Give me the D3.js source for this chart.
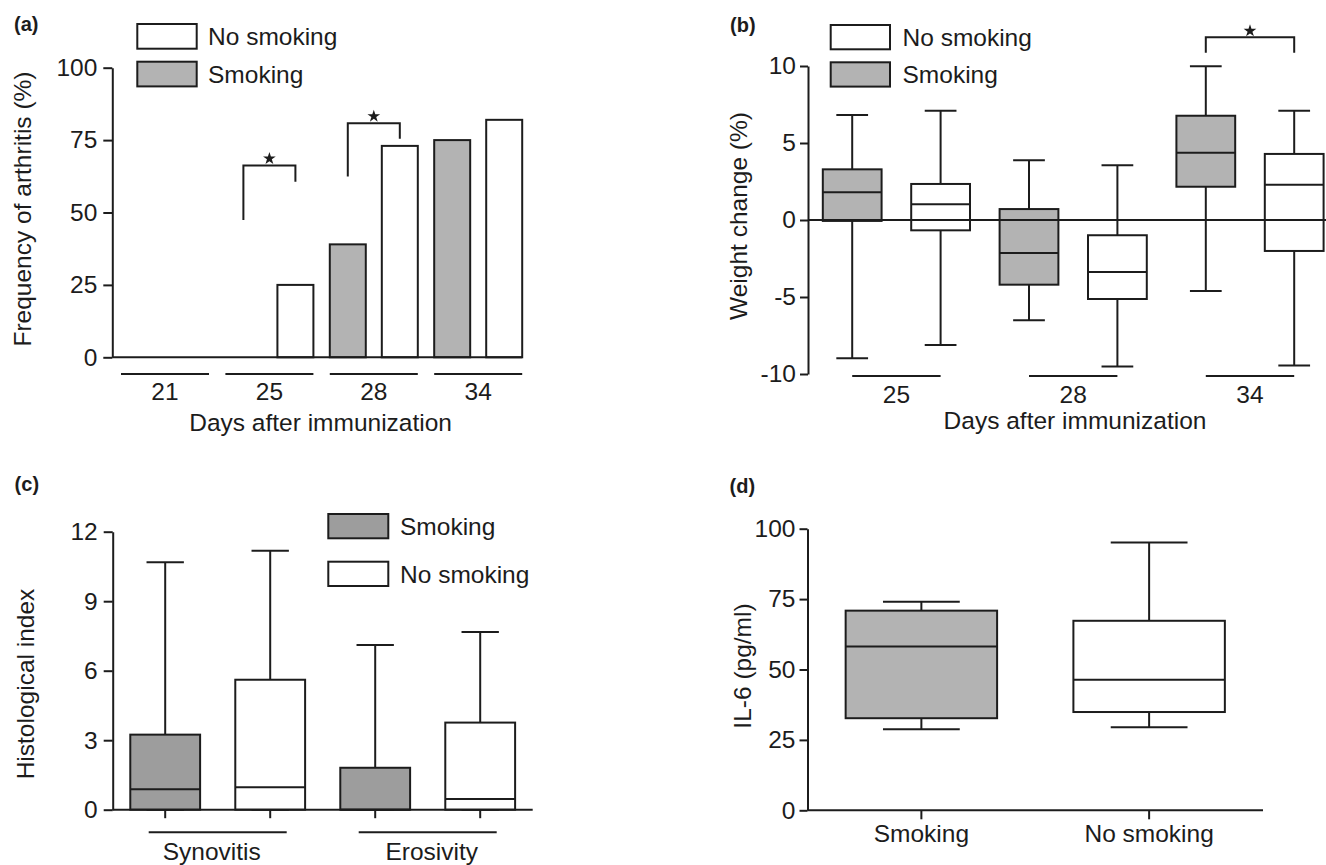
<!DOCTYPE html>
<html><head><meta charset="utf-8">
<script src="https://cdn.jsdelivr.net/npm/d3@7"></script>
<style>
body{margin:0;background:#fff;}
svg{display:block;font-family:"Liberation Sans",Arial,Helvetica,sans-serif;}
</style></head><body>
<svg id="chart" width="1326" height="865"></svg>
<script>
// ---------- DATA ----------
const seriesNames = ["Smoking", "No smoking"];

// (a) Frequency of arthritis (%)
const daysA = ["21", "25", "28", "34"];
const arthritisSmoking = [0, 0, 39, 75];
const arthritisNoSmoking = [0, 25, 73, 82];
const ticksA = [0, 25, 50, 75, 100];
const sigA = [ // bracket heights in %: top, left leg end, right leg end
  { day: "25", top: 66.2, left: 47.4, right: 60.6 },
  { day: "28", top: 80.8, left: 62.4, right: 75.5 }
];

// (b) Weight change (%)  [min, q1, median, q3, max]
const daysB = ["25", "28", "34"];
const weightSmoking = [[-8.98, -0.06, 1.80, 3.29, 6.82], [-6.51, -4.20, -2.14, 0.71, 3.88], [-4.61, 2.16, 4.37, 6.77, 9.98]];
const weightNoSmoking = [[-8.12, -0.67, 1.02, 2.34, 7.10], [-9.52, -5.13, -3.38, -0.99, 3.55], [-9.44, -2.01, 2.29, 4.29, 7.10]];
const ticksB = [-10, -5, 0, 5, 10];
const sigB = [{ day: "34", top: 11.86, left: 10.86, right: 10.86 }];

// (c) Histological index  [min, q1, median, q3, max]
const histCategories = ["Synovitis", "Erosivity"];
const histSmoking = [[0, 0, 0.88, 3.24, 10.68], [0, 0, 0, 1.81, 7.11]];
const histNoSmoking = [[0, 0, 0.97, 5.61, 11.18], [0, 0, 0.46, 3.76, 7.67]];
const ticksC = [0, 3, 6, 9, 12];

// (d) IL-6 (pg/ml)  [min, q1, median, q3, max]
const il6Groups = ["Smoking", "No smoking"];
const il6Values = [[28.8, 32.7, 58.2, 70.9, 74.1], [29.5, 34.9, 46.4, 67.3, 95.1]];
const ticksD = [0, 25, 50, 75, 100];

// ---------- STYLE ----------
const INK = "#1c1c1c";
const GRAY = "#b3b3b3";
const GRAY_C = "#9d9d9d";
const SW = 2;
const FS = 24.5;

const svg = d3.select("#chart");

function yAxis(g, y, ticks, x, size, pad) {
  const ax = g.append("g").attr("transform", `translate(${x},0)`)
    .call(d3.axisLeft(y).tickValues(ticks).tickSize(size).tickPadding(pad).tickSizeOuter(0).tickFormat(d => String(d)));
  ax.select(".domain").attr("stroke", INK).attr("stroke-width", SW);
  ax.selectAll(".tick line").attr("stroke", INK).attr("stroke-width", SW);
  ax.selectAll(".tick text").attr("fill", INK).style("font-size", FS + "px").style("font-family", "Liberation Sans, Arial, sans-serif");
  return ax;
}
function hline(g, x1, x2, y) {
  g.append("line").attr("x1", x1).attr("x2", x2).attr("y1", y).attr("y2", y).attr("stroke", INK).attr("stroke-width", SW);
}
function vline(g, x, y1, y2) {
  g.append("line").attr("x1", x).attr("x2", x).attr("y1", y1).attr("y2", y2).attr("stroke", INK).attr("stroke-width", SW);
}
function txt(g, x, y, s, anchor) {
  return g.append("text").attr("x", x).attr("y", y).attr("text-anchor", anchor || "middle")
    .attr("fill", INK).style("font-size", FS + "px").text(s);
}
function ytitle(g, x, cy, s) {
  g.append("text").attr("transform", `translate(${x},${cy}) rotate(-90)`).attr("text-anchor", "middle")
    .attr("fill", INK).style("font-size", FS + "px").text(s);
}
function panelLabel(g, x, y, s) {
  g.append("text").attr("x", x).attr("y", y).attr("fill", INK).style("font-size", "20px").style("font-weight", "bold").text(s);
}
function legend(g, items, x, tops, w, h, tx) {
  items.forEach((it, i) => {
    g.append("rect").attr("x", x).attr("y", tops[i]).attr("width", w).attr("height", h)
      .attr("fill", it.fill).attr("stroke", INK).attr("stroke-width", SW);
    txt(g, tx, tops[i] + h / 2 + 8.8, it.name, "start");
  });
}
function drawBox(g, cx, w, capW, v, y, fill) {
  vline(g, cx, y(v[0]), y(v[4]));
  hline(g, cx - capW / 2, cx + capW / 2, y(v[4]));
  hline(g, cx - capW / 2, cx + capW / 2, y(v[0]));
  g.append("rect").attr("x", cx - w / 2).attr("y", y(v[3])).attr("width", w).attr("height", y(v[1]) - y(v[3]))
    .attr("fill", fill).attr("stroke", INK).attr("stroke-width", SW);
  hline(g, cx - w / 2, cx + w / 2, y(v[2]));
}
function star(g, x, y) {
  g.append("path").attr("d", d3.symbol().type(d3.symbolStar).size(50)()).attr("transform", `translate(${x},${y})`).attr("fill", INK);
}

// ---------- (a) ----------
(function () {
  const g = svg.append("g");
  const axX = 112.3, axEnd = 522;
  const y = d3.scaleLinear().domain([0, 100]).range([357.3, 67.7]);
  const xg = d3.scaleBand().domain(daysA).range([121, 522.2]).paddingInner(0.157).paddingOuter(0);
  const xs = d3.scaleBand().domain(seriesNames).range([0, xg.bandwidth()]).paddingInner(0.308).paddingOuter(0);
  const fills = { "Smoking": GRAY, "No smoking": "#fff" };
  const vals = { "Smoking": arthritisSmoking, "No smoking": arthritisNoSmoking };
  daysA.forEach((d, i) => {
    seriesNames.forEach(s => {
      const v = vals[s][i];
      if (v > 0) {
        g.append("rect").attr("x", xg(d) + xs(s)).attr("y", y(v)).attr("width", xs.bandwidth()).attr("height", y(0) - y(v))
          .attr("fill", fills[s]).attr("stroke", INK).attr("stroke-width", SW);
      }
    });
    hline(g, xg(d), xg(d) + xg.bandwidth(), 374);
    txt(g, xg(d) + xg.bandwidth() / 2, 400, d);
  });
  hline(g, axX, axEnd, y(0));
  yAxis(g, y, ticksA, axX, 9, 6);
  sigA.forEach(b => {
    const xl = xg(b.day) + xs("Smoking") + xs.bandwidth() / 2;
    const xr = xg(b.day) + xs("No smoking") + xs.bandwidth() / 2;
    g.append("path").attr("d", `M${xl},${y(b.left)}V${y(b.top)}H${xr}V${y(b.right)}`)
      .attr("fill", "none").attr("stroke", INK).attr("stroke-width", SW);
    star(g, (xl + xr) / 2, y(b.top) - 7);
  });
  txt(g, 320.6, 431, "Days after immunization");
  ytitle(g, 31, 209, "Frequency of arthritis (%)");
  legend(g, [{ name: "No smoking", fill: "#fff" }, { name: "Smoking", fill: GRAY }], 137.3, [24, 61.7], 59.4, 24.7, 208);
  panelLabel(g, 14, 31, "(a)");
})();

// ---------- (b) ----------
(function () {
  const g = svg.append("g");
  const axX = 808;
  const y = d3.scaleLinear().domain([-10, 10]).range([374, 66]);
  const xg = d3.scaleBand().domain(daysB).range([axX, axX + 3 * 176.8]).padding(0);
  const xs = d3.scaleBand().domain(seriesNames).range([0, xg.bandwidth()]).paddingInner(0.335).paddingOuter(0.1675);
  const vals = { "Smoking": weightSmoking, "No smoking": weightNoSmoking };
  const fills = { "Smoking": GRAY, "No smoking": "#fff" };
  const cx = (d, s) => xg(d) + xs(s) + xs.bandwidth() / 2;
  daysB.forEach((d, i) => {
    seriesNames.forEach(s => drawBox(g, cx(d, s), xs.bandwidth(), xs.bandwidth() * 0.54, vals[s][i], y, fills[s]));
    hline(g, cx(d, "Smoking"), cx(d, "No smoking"), 376);
    txt(g, xg(d) + xg.bandwidth() / 2, 403, d);
  });
  hline(g, axX, 1326, y(0));
  yAxis(g, y, ticksB, axX, 8, 4);
  sigB.forEach(b => {
    const xl = cx(b.day, "Smoking"), xr = cx(b.day, "No smoking");
    g.append("path").attr("d", `M${xl},${y(b.left)}V${y(b.top)}H${xr}V${y(b.right)}`)
      .attr("fill", "none").attr("stroke", INK).attr("stroke-width", SW);
    star(g, (xl + xr) / 2, y(b.top) - 6.5);
  });
  txt(g, 1075, 429, "Days after immunization");
  ytitle(g, 746.7, 216, "Weight change (%)");
  legend(g, [{ name: "No smoking", fill: "#fff" }, { name: "Smoking", fill: GRAY }], 830.7, [25, 62.3], 59.3, 24.3, 902.5);
  panelLabel(g, 730, 32, "(b)");
})();

// ---------- (c) ----------
(function () {
  const g = svg.append("g");
  const axX = 112.7, axEnd = 532.7;
  const y = d3.scaleLinear().domain([0, 12]).range([809.7, 531.7]);
  const xg = d3.scaleBand().domain(histCategories).range([axX, axEnd]).padding(0);
  const xs = d3.scaleBand().domain(seriesNames).range([0, xg.bandwidth()]).paddingInner(0.335).paddingOuter(0.1675);
  const vals = { "Smoking": histSmoking, "No smoking": histNoSmoking };
  const fills = { "Smoking": GRAY_C, "No smoking": "#fff" };
  const cx = (d, s) => xg(d) + xs(s) + xs.bandwidth() / 2;
  histCategories.forEach((d, i) => {
    seriesNames.forEach(s => {
      drawBox(g, cx(d, s), xs.bandwidth(), xs.bandwidth() * 0.535, vals[s][i], y, fills[s]);
      vline(g, cx(d, s), y(0), y(0) + 8.5);
    });
    const mid = xg(d) + xg.bandwidth() / 2;
    hline(g, mid - 69, mid + 69, 832.3);
    txt(g, mid - (i === 0 ? 6 : -4), 860, d);
  });
  hline(g, axX, axEnd, y(0));
  yAxis(g, y, ticksC, axX, 9, 6);
  ytitle(g, 33.5, 684, "Histological index");
  legend(g, [{ name: "Smoking", fill: GRAY_C }, { name: "No smoking", fill: "#fff" }], 328.3, [514, 561.7], 60, 24.3, 400);
  panelLabel(g, 14.6, 491, "(c)");
})();

// ---------- (d) ----------
(function () {
  const g = svg.append("g");
  const axX = 807.5, axEnd = 1263;
  const y = d3.scaleLinear().domain([0, 100]).range([810.3, 528.7]);
  const x = d3.scaleBand().domain(il6Groups).range([axX, axEnd]).paddingInner(0.335).paddingOuter(0.1675);
  const fills = [GRAY, "#fff"];
  il6Groups.forEach((d, i) => {
    const c = x(d) + x.bandwidth() / 2;
    drawBox(g, c, x.bandwidth(), x.bandwidth() * 0.507, il6Values[i], y, fills[i]);
    vline(g, c, y(0), y(0) + 9);
    txt(g, c, 842, d);
  });
  hline(g, axX, axEnd, y(0));
  yAxis(g, y, ticksD, axX, 8, 4);
  ytitle(g, 751, 666, "IL-6 (pg/ml)");
  panelLabel(g, 729.6, 493, "(d)");
})();
</script>
</body></html>
